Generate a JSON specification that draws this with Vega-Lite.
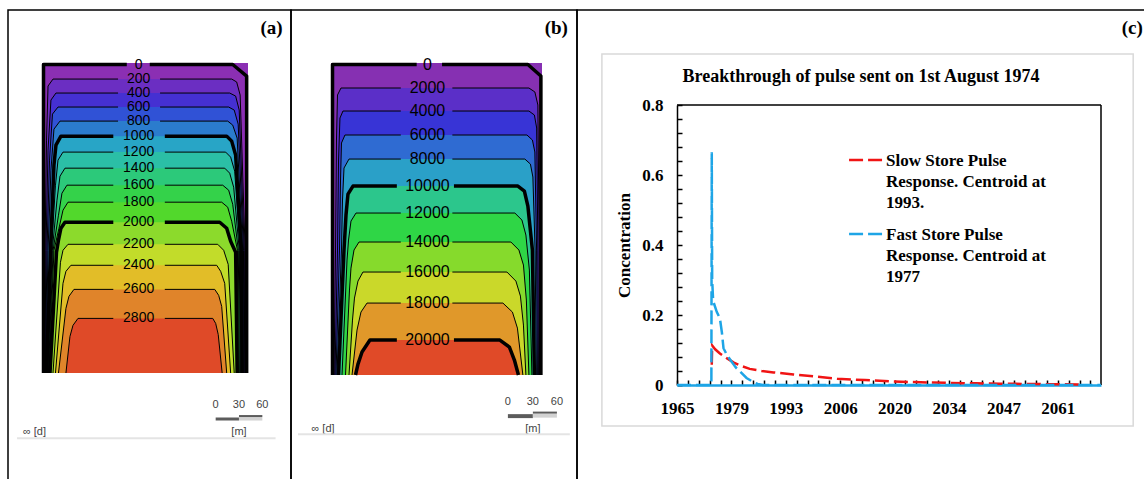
{
"$schema":"https://vega.github.io/schema/vega-lite/v6.json",
"background":"white",
"padding":{"left":7,"top":9,"right":0,"bottom":0},
"spacing":0,
"bounds":"flush",
"resolve":{"scale":{"color":"independent","fill":"independent"}},
"config":{"view":{"stroke":"#000000","strokeWidth":1.5}},
"datasets":{
"ca":[
{"level":0,"seg":"L","i":0,"x":1.9,"d":390},{"level":0,"seg":"L","i":4,"x":1.9,"d":1.9},{"level":0,"seg":"L","i":5,"x":107,"d":1.9},{"level":0,"seg":"R","i":6,"x":136,"d":1.9},{"level":0,"seg":"R","i":7,"x":240.7,"d":1.9},{"level":0,"seg":"R","i":9,"x":258.3,"d":16.4},{"level":0,"seg":"R","i":11,"x":258.3,"d":390},
{"level":200,"seg":"L","i":0,"x":2.9,"d":390},{"level":200,"seg":"L","i":1,"x":3.8,"d":235.6},{"level":200,"seg":"L","i":2,"x":5.7,"d":97.0},{"level":200,"seg":"L","i":3,"x":7.6,"d":29.0},{"level":200,"seg":"L","i":4,"x":13.9,"d":20.2},{"level":200,"seg":"L","i":5,"x":96,"d":20.2},{"level":200,"seg":"R","i":6,"x":149,"d":20.2},{"level":200,"seg":"R","i":7,"x":239.4,"d":20.2},{"level":200,"seg":"R","i":8,"x":245.7,"d":23.9},{"level":200,"seg":"R","i":9,"x":250.1,"d":40.3},{"level":200,"seg":"R","i":10,"x":256.4,"d":235.6},{"level":200,"seg":"R","i":11,"x":256.8,"d":390},
{"level":400,"seg":"L","i":0,"x":3.5,"d":390},{"level":400,"seg":"L","i":1,"x":5.0,"d":235.6},{"level":400,"seg":"L","i":2,"x":7.6,"d":109.6},{"level":400,"seg":"L","i":3,"x":11.3,"d":46.6},{"level":400,"seg":"L","i":4,"x":17.6,"d":37.8},{"level":400,"seg":"L","i":5,"x":96,"d":37.8},{"level":400,"seg":"R","i":6,"x":149,"d":37.8},{"level":400,"seg":"R","i":7,"x":236.9,"d":37.8},{"level":400,"seg":"R","i":8,"x":244.4,"d":41.6},{"level":400,"seg":"R","i":9,"x":248.9,"d":59.2},{"level":400,"seg":"R","i":10,"x":255.3,"d":235.6},{"level":400,"seg":"R","i":11,"x":255.8,"d":390},
{"level":600,"seg":"L","i":0,"x":4.2,"d":390},{"level":600,"seg":"L","i":1,"x":6.3,"d":235.6},{"level":600,"seg":"L","i":2,"x":9.5,"d":122.2},{"level":600,"seg":"L","i":3,"x":13.2,"d":64.3},{"level":600,"seg":"L","i":4,"x":20.2,"d":55.4},{"level":600,"seg":"L","i":5,"x":96,"d":55.4},{"level":600,"seg":"R","i":6,"x":149,"d":55.4},{"level":600,"seg":"R","i":7,"x":235.6,"d":55.4},{"level":600,"seg":"R","i":8,"x":242.6,"d":59.2},{"level":600,"seg":"R","i":9,"x":247.6,"d":76.9},{"level":600,"seg":"R","i":10,"x":254.3,"d":235.6},{"level":600,"seg":"R","i":11,"x":254.9,"d":390},
{"level":800,"seg":"L","i":0,"x":4.8,"d":390},{"level":800,"seg":"L","i":1,"x":7.6,"d":235.6},{"level":800,"seg":"L","i":2,"x":11.3,"d":134.8},{"level":800,"seg":"L","i":3,"x":15.1,"d":83.2},{"level":800,"seg":"L","i":4,"x":22.7,"d":73.1},{"level":800,"seg":"L","i":5,"x":96,"d":73.1},{"level":800,"seg":"R","i":6,"x":149,"d":73.1},{"level":800,"seg":"R","i":7,"x":234.4,"d":73.1},{"level":800,"seg":"R","i":8,"x":240.7,"d":78.1},{"level":800,"seg":"R","i":9,"x":246.3,"d":94.5},{"level":800,"seg":"R","i":10,"x":253.3,"d":235.6},{"level":800,"seg":"R","i":11,"x":253.9,"d":390},
{"level":1000,"seg":"L","i":0,"x":5.7,"d":390},{"level":1000,"seg":"L","i":1,"x":10.7,"d":235.6},{"level":1000,"seg":"L","i":2,"x":15.1,"d":128.5},{"level":1000,"seg":"L","i":3,"x":17.6,"d":103.3},{"level":1000,"seg":"L","i":4,"x":23.9,"d":92.0},{"level":1000,"seg":"L","i":5,"x":90,"d":92.0},{"level":1000,"seg":"R","i":6,"x":155,"d":92.0},{"level":1000,"seg":"R","i":7,"x":233.1,"d":92.0},{"level":1000,"seg":"R","i":8,"x":239.4,"d":98.3},{"level":1000,"seg":"R","i":9,"x":244.4,"d":115.9},{"level":1000,"seg":"R","i":10,"x":251.4,"d":235.6},{"level":1000,"seg":"R","i":11,"x":252.6,"d":390},
{"level":1200,"seg":"L","i":0,"x":6.6,"d":390},{"level":1200,"seg":"L","i":1,"x":12.0,"d":235.6},{"level":1200,"seg":"L","i":2,"x":17.0,"d":153.7},{"level":1200,"seg":"L","i":3,"x":20.2,"d":122.2},{"level":1200,"seg":"L","i":4,"x":26.5,"d":112.1},{"level":1200,"seg":"L","i":5,"x":90,"d":112.1},{"level":1200,"seg":"R","i":6,"x":155,"d":112.1},{"level":1200,"seg":"R","i":7,"x":231.8,"d":112.1},{"level":1200,"seg":"R","i":8,"x":238.1,"d":118.4},{"level":1200,"seg":"R","i":9,"x":243.2,"d":136.1},{"level":1200,"seg":"R","i":10,"x":250.1,"d":235.6},{"level":1200,"seg":"R","i":11,"x":251.5,"d":390},
{"level":1400,"seg":"L","i":0,"x":7.3,"d":390},{"level":1400,"seg":"L","i":1,"x":13.0,"d":235.6},{"level":1400,"seg":"L","i":2,"x":18.9,"d":172.6},{"level":1400,"seg":"L","i":3,"x":22.7,"d":142.4},{"level":1400,"seg":"L","i":4,"x":29.0,"d":132.3},{"level":1400,"seg":"L","i":5,"x":90,"d":132.3},{"level":1400,"seg":"R","i":6,"x":155,"d":132.3},{"level":1400,"seg":"R","i":7,"x":230.6,"d":132.3},{"level":1400,"seg":"R","i":8,"x":236.9,"d":138.6},{"level":1400,"seg":"R","i":9,"x":241.9,"d":156.2},{"level":1400,"seg":"R","i":10,"x":249.0,"d":235.6},{"level":1400,"seg":"R","i":11,"x":250.4,"d":390},
{"level":1600,"seg":"L","i":0,"x":8.1,"d":390},{"level":1600,"seg":"L","i":1,"x":14.0,"d":235.6},{"level":1600,"seg":"L","i":2,"x":20.8,"d":191.5},{"level":1600,"seg":"L","i":3,"x":25.2,"d":163.8},{"level":1600,"seg":"L","i":4,"x":31.5,"d":153.7},{"level":1600,"seg":"L","i":5,"x":90,"d":153.7},{"level":1600,"seg":"R","i":6,"x":155,"d":153.7},{"level":1600,"seg":"R","i":7,"x":228.1,"d":153.7},{"level":1600,"seg":"R","i":8,"x":235.6,"d":160.0},{"level":1600,"seg":"R","i":9,"x":240.7,"d":177.7},{"level":1600,"seg":"R","i":10,"x":247.8,"d":235.6},{"level":1600,"seg":"R","i":11,"x":249.1,"d":390},
{"level":1800,"seg":"L","i":0,"x":8.8,"d":390},{"level":1800,"seg":"L","i":1,"x":15.1,"d":235.6},{"level":1800,"seg":"L","i":2,"x":21.4,"d":207.9},{"level":1800,"seg":"L","i":3,"x":26.5,"d":185.2},{"level":1800,"seg":"L","i":4,"x":32.8,"d":175.1},{"level":1800,"seg":"L","i":5,"x":90,"d":175.1},{"level":1800,"seg":"R","i":6,"x":155,"d":175.1},{"level":1800,"seg":"R","i":7,"x":226.8,"d":175.1},{"level":1800,"seg":"R","i":8,"x":234.4,"d":181.4},{"level":1800,"seg":"R","i":9,"x":239.4,"d":199.1},{"level":1800,"seg":"R","i":10,"x":246.7,"d":235.6},{"level":1800,"seg":"R","i":11,"x":247.8,"d":390},
{"level":2000,"seg":"L","i":0,"x":10.1,"d":390},{"level":2000,"seg":"L","i":1,"x":18.3,"d":238.1},{"level":2000,"seg":"L","i":2,"x":20.8,"d":223.0},{"level":2000,"seg":"L","i":3,"x":23.9,"d":207.9},{"level":2000,"seg":"L","i":4,"x":29.0,"d":200.3},{"level":2000,"seg":"L","i":5,"x":90,"d":200.3},{"level":2000,"seg":"R","i":6,"x":155,"d":200.3},{"level":2000,"seg":"R","i":7,"x":224.3,"d":200.3},{"level":2000,"seg":"R","i":8,"x":233.1,"d":207.9},{"level":2000,"seg":"R","i":9,"x":238.1,"d":224.3},{"level":2000,"seg":"R","i":10,"x":244.4,"d":238.1},{"level":2000,"seg":"R","i":11,"x":246.3,"d":390},
{"level":2200,"seg":"L","i":0,"x":13.9,"d":390},{"level":2200,"seg":"L","i":2,"x":23.3,"d":250.7},{"level":2200,"seg":"L","i":3,"x":26.5,"d":235.6},{"level":2200,"seg":"L","i":4,"x":32.8,"d":228.1},{"level":2200,"seg":"L","i":5,"x":90,"d":228.1},{"level":2200,"seg":"R","i":6,"x":155,"d":228.1},{"level":2200,"seg":"R","i":7,"x":221.8,"d":228.1},{"level":2200,"seg":"R","i":8,"x":229.3,"d":235.6},{"level":2200,"seg":"R","i":9,"x":235.0,"d":253.3},{"level":2200,"seg":"R","i":11,"x":242.6,"d":390},
{"level":2400,"seg":"L","i":0,"x":17.0,"d":390},{"level":2400,"seg":"L","i":2,"x":26.5,"d":277.2},{"level":2400,"seg":"L","i":3,"x":30.2,"d":262.1},{"level":2400,"seg":"L","i":4,"x":36.5,"d":254.5},{"level":2400,"seg":"L","i":5,"x":90,"d":254.5},{"level":2400,"seg":"R","i":6,"x":155,"d":254.5},{"level":2400,"seg":"R","i":7,"x":220.5,"d":254.5},{"level":2400,"seg":"R","i":8,"x":225.5,"d":262.1},{"level":2400,"seg":"R","i":9,"x":230.6,"d":277.2},{"level":2400,"seg":"R","i":11,"x":238.1,"d":390},
{"level":2600,"seg":"L","i":0,"x":20.8,"d":390},{"level":2600,"seg":"L","i":2,"x":30.2,"d":308.7},{"level":2600,"seg":"L","i":3,"x":34.0,"d":293.6},{"level":2600,"seg":"L","i":4,"x":40.3,"d":284.8},{"level":2600,"seg":"L","i":5,"x":90,"d":284.8},{"level":2600,"seg":"R","i":6,"x":155,"d":284.8},{"level":2600,"seg":"R","i":7,"x":218.0,"d":284.8},{"level":2600,"seg":"R","i":8,"x":223.0,"d":292.3},{"level":2600,"seg":"R","i":9,"x":226.8,"d":306.2},{"level":2600,"seg":"R","i":11,"x":233.1,"d":390},
{"level":2800,"seg":"L","i":0,"x":30.2,"d":390},{"level":2800,"seg":"L","i":2,"x":35.3,"d":344.0},{"level":2800,"seg":"L","i":3,"x":39.1,"d":330.1},{"level":2800,"seg":"L","i":4,"x":45.4,"d":321.3},{"level":2800,"seg":"L","i":5,"x":90,"d":321.3},{"level":2800,"seg":"R","i":6,"x":155,"d":321.3},{"level":2800,"seg":"R","i":7,"x":215.5,"d":321.3},{"level":2800,"seg":"R","i":8,"x":219.2,"d":327.6},{"level":2800,"seg":"R","i":9,"x":222.4,"d":341.5},{"level":2800,"seg":"R","i":11,"x":227.4,"d":390}
],
"cb":[
{"level":0,"seg":"L","i":0,"x":1.9,"d":393},{"level":0,"seg":"L","i":4,"x":1.9,"d":1.9},{"level":0,"seg":"L","i":5,"x":108,"d":1.9},{"level":0,"seg":"R","i":6,"x":140,"d":1.9},{"level":0,"seg":"R","i":7,"x":248.2,"d":1.9},{"level":0,"seg":"R","i":9,"x":264.6,"d":16.4},{"level":0,"seg":"R","i":11,"x":264.6,"d":393},
{"level":2000,"seg":"L","i":0,"x":3.8,"d":393},{"level":2000,"seg":"L","i":1,"x":5.7,"d":235.6},{"level":2000,"seg":"L","i":2,"x":6.9,"d":97.0},{"level":2000,"seg":"L","i":3,"x":8.2,"d":40.3},{"level":2000,"seg":"L","i":4,"x":12.6,"d":31.5},{"level":2000,"seg":"L","i":5,"x":88,"d":31.5},{"level":2000,"seg":"R","i":6,"x":153,"d":31.5},{"level":2000,"seg":"R","i":7,"x":249.5,"d":31.5},{"level":2000,"seg":"R","i":8,"x":257.0,"d":36.5},{"level":2000,"seg":"R","i":9,"x":260.8,"d":52.9},{"level":2000,"seg":"R","i":10,"x":262.5,"d":235.6},{"level":2000,"seg":"R","i":11,"x":262.7,"d":393},
{"level":4000,"seg":"L","i":0,"x":5.0,"d":393},{"level":4000,"seg":"L","i":1,"x":8.2,"d":235.6},{"level":4000,"seg":"L","i":2,"x":9.5,"d":122.2},{"level":4000,"seg":"L","i":3,"x":11.3,"d":69.3},{"level":4000,"seg":"L","i":4,"x":15.1,"d":60.5},{"level":4000,"seg":"L","i":5,"x":88,"d":60.5},{"level":4000,"seg":"R","i":6,"x":153,"d":60.5},{"level":4000,"seg":"R","i":7,"x":249.5,"d":60.5},{"level":4000,"seg":"R","i":8,"x":256.4,"d":65.5},{"level":4000,"seg":"R","i":9,"x":259.3,"d":81.9},{"level":4000,"seg":"R","i":10,"x":260.8,"d":235.6},{"level":4000,"seg":"R","i":11,"x":261.5,"d":393},
{"level":6000,"seg":"L","i":0,"x":6.3,"d":393},{"level":6000,"seg":"L","i":1,"x":10.7,"d":235.6},{"level":6000,"seg":"L","i":2,"x":12.0,"d":147.4},{"level":6000,"seg":"L","i":3,"x":13.2,"d":100.8},{"level":6000,"seg":"L","i":4,"x":17.6,"d":90.7},{"level":6000,"seg":"L","i":5,"x":88,"d":90.7},{"level":6000,"seg":"R","i":6,"x":153,"d":90.7},{"level":6000,"seg":"R","i":7,"x":247.0,"d":90.7},{"level":6000,"seg":"R","i":8,"x":253.9,"d":97.0},{"level":6000,"seg":"R","i":9,"x":257.0,"d":112.1},{"level":6000,"seg":"R","i":10,"x":259.2,"d":235.6},{"level":6000,"seg":"R","i":11,"x":260.2,"d":393},
{"level":8000,"seg":"L","i":0,"x":7.6,"d":393},{"level":8000,"seg":"L","i":1,"x":13.2,"d":235.6},{"level":8000,"seg":"L","i":2,"x":14.5,"d":172.6},{"level":8000,"seg":"L","i":3,"x":16.4,"d":132.3},{"level":8000,"seg":"L","i":4,"x":22.7,"d":121.0},{"level":8000,"seg":"L","i":5,"x":88,"d":121.0},{"level":8000,"seg":"R","i":6,"x":153,"d":121.0},{"level":8000,"seg":"R","i":7,"x":244.4,"d":121.0},{"level":8000,"seg":"R","i":8,"x":251.4,"d":127.3},{"level":8000,"seg":"R","i":9,"x":254.5,"d":143.6},{"level":8000,"seg":"R","i":10,"x":257.3,"d":235.6},{"level":8000,"seg":"R","i":11,"x":258.9,"d":393},
{"level":10000,"seg":"L","i":0,"x":9.5,"d":393},{"level":10000,"seg":"L","i":1,"x":16.4,"d":235.6},{"level":10000,"seg":"L","i":2,"x":18.9,"d":191.5},{"level":10000,"seg":"L","i":3,"x":21.4,"d":165.1},{"level":10000,"seg":"L","i":4,"x":27.7,"d":155.0},{"level":10000,"seg":"L","i":5,"x":83,"d":155.0},{"level":10000,"seg":"R","i":6,"x":155,"d":155.0},{"level":10000,"seg":"R","i":7,"x":235.6,"d":155.0},{"level":10000,"seg":"R","i":8,"x":243.8,"d":161.3},{"level":10000,"seg":"R","i":9,"x":248.2,"d":180.2},{"level":10000,"seg":"R","i":10,"x":253.9,"d":235.6},{"level":10000,"seg":"R","i":11,"x":256.4,"d":393},
{"level":12000,"seg":"L","i":0,"x":13.9,"d":393},{"level":12000,"seg":"L","i":1,"x":20.2,"d":248.2},{"level":12000,"seg":"L","i":2,"x":22.1,"d":223.0},{"level":12000,"seg":"L","i":3,"x":25.2,"d":199.1},{"level":12000,"seg":"L","i":4,"x":31.5,"d":189.0},{"level":12000,"seg":"L","i":5,"x":88,"d":189.0},{"level":12000,"seg":"R","i":6,"x":153,"d":189.0},{"level":12000,"seg":"R","i":7,"x":231.8,"d":189.0},{"level":12000,"seg":"R","i":8,"x":240.7,"d":197.8},{"level":12000,"seg":"R","i":9,"x":245.7,"d":216.7},{"level":12000,"seg":"R","i":10,"x":250.1,"d":260.8},{"level":12000,"seg":"R","i":11,"x":253.3,"d":393},
{"level":14000,"seg":"L","i":0,"x":18.3,"d":393},{"level":14000,"seg":"L","i":1,"x":23.3,"d":286.0},{"level":14000,"seg":"L","i":2,"x":25.2,"d":258.3},{"level":14000,"seg":"L","i":3,"x":29.0,"d":235.6},{"level":14000,"seg":"L","i":4,"x":35.3,"d":225.5},{"level":14000,"seg":"L","i":5,"x":88,"d":225.5},{"level":14000,"seg":"R","i":6,"x":153,"d":225.5},{"level":14000,"seg":"R","i":7,"x":226.8,"d":225.5},{"level":14000,"seg":"R","i":8,"x":236.9,"d":235.6},{"level":14000,"seg":"R","i":9,"x":242.6,"d":254.5},{"level":14000,"seg":"R","i":10,"x":246.3,"d":298.6},{"level":14000,"seg":"R","i":11,"x":249.5,"d":393},
{"level":16000,"seg":"L","i":0,"x":22.7,"d":393},{"level":16000,"seg":"L","i":1,"x":27.1,"d":323.8},{"level":16000,"seg":"L","i":2,"x":29.6,"d":296.1},{"level":16000,"seg":"L","i":3,"x":34.0,"d":274.7},{"level":16000,"seg":"L","i":4,"x":40.3,"d":263.3},{"level":16000,"seg":"L","i":5,"x":88,"d":263.3},{"level":16000,"seg":"R","i":6,"x":153,"d":263.3},{"level":16000,"seg":"R","i":7,"x":221.8,"d":263.3},{"level":16000,"seg":"R","i":8,"x":233.1,"d":274.7},{"level":16000,"seg":"R","i":9,"x":238.8,"d":293.6},{"level":16000,"seg":"R","i":10,"x":242.6,"d":330.1},{"level":16000,"seg":"R","i":11,"x":245.7,"d":393},
{"level":18000,"seg":"L","i":0,"x":26.5,"d":393},{"level":18000,"seg":"L","i":2,"x":32.8,"d":336.4},{"level":18000,"seg":"L","i":3,"x":37.8,"d":313.7},{"level":18000,"seg":"L","i":4,"x":45.4,"d":302.4},{"level":18000,"seg":"L","i":5,"x":88,"d":302.4},{"level":18000,"seg":"R","i":6,"x":153,"d":302.4},{"level":18000,"seg":"R","i":7,"x":216.7,"d":302.4},{"level":18000,"seg":"R","i":8,"x":228.7,"d":313.7},{"level":18000,"seg":"R","i":9,"x":235.0,"d":333.9},{"level":18000,"seg":"R","i":11,"x":241.9,"d":393},
{"level":20000,"seg":"L","i":0,"x":30.9,"d":393},{"level":20000,"seg":"L","i":2,"x":34.0,"d":379.3},{"level":20000,"seg":"L","i":3,"x":39.1,"d":364.1},{"level":20000,"seg":"L","i":4,"x":49.1,"d":349.0},{"level":20000,"seg":"L","i":5,"x":83,"d":349.0},{"level":20000,"seg":"R","i":6,"x":155,"d":349.0},{"level":20000,"seg":"R","i":7,"x":212.9,"d":349.0},{"level":20000,"seg":"R","i":8,"x":224.9,"d":357.8},{"level":20000,"seg":"R","i":9,"x":231.2,"d":374.2},{"level":20000,"seg":"R","i":11,"x":236.3,"d":393}
],
"sba":[{"x":219.2,"x2":248.6,"d":446.0,"d2":449.8,"p":"dark"},{"x":248.6,"x2":278.1,"d":445.4,"d2":449.8,"p":"light"},{"x":248.6,"x2":278.1,"d":442.9,"d2":445.4,"p":"dark"}],
"sbb":[{"x":223.0,"x2":254.5,"d":442.3,"d2":447.3,"p":"dark"},{"x":254.5,"x2":284.8,"d":441.6,"d2":446.7,"p":"light"},{"x":254.5,"x2":284.8,"d":439.1,"d2":441.6,"p":"dark"}],
"sta":[{"t":"0","x":219.2,"d":429.7},{"t":"30","x":248.6,"d":429.7},{"t":"60","x":278.1,"d":429.7},{"t":"[m]","x":248.6,"d":464.5},{"t":"∞ [d]","x":-9.5,"d":464.5}],
"stb":[{"t":"0","x":223.0,"d":427.1},{"t":"30","x":254.5,"d":427.1},{"t":"60","x":284.8,"d":427.1},{"t":"[m]","x":254.5,"d":461.2},{"t":"∞ [d]","x":-10.1,"d":461.2}],
"conc":[
{"series":"Slow","year":1974.45,"c":0.058},{"series":"Slow","year":1974.55,"c":0.113},{"series":"Slow","year":1975.3,"c":0.102},{"series":"Slow","year":1976.5,"c":0.09},{"series":"Slow","year":1978.3,"c":0.076},{"series":"Slow","year":1980,"c":0.064},{"series":"Slow","year":1982,"c":0.054},{"series":"Slow","year":1984,"c":0.046},{"series":"Slow","year":1987,"c":0.04},{"series":"Slow","year":1990,"c":0.036},{"series":"Slow","year":1995,"c":0.03},{"series":"Slow","year":2000,"c":0.025},{"series":"Slow","year":2006,"c":0.018},{"series":"Slow","year":2013,"c":0.014},{"series":"Slow","year":2020,"c":0.010},{"series":"Slow","year":2027,"c":0.0078},{"series":"Slow","year":2034,"c":0.006},{"series":"Slow","year":2041,"c":0.0047},{"series":"Slow","year":2047,"c":0.0038},{"series":"Slow","year":2054,"c":0.003},{"series":"Slow","year":2061,"c":0.0022},{"series":"Slow","year":2068,"c":0.0015},
{"series":"Fast","year":1965.7,"c":0},{"series":"Fast","year":1974.35,"c":0},{"series":"Fast","year":1974.45,"c":0.665},{"series":"Fast","year":1974.55,"c":0.30},{"series":"Fast","year":1974.8,"c":0.24},{"series":"Fast","year":1975.7,"c":0.209},{"series":"Fast","year":1976.5,"c":0.19},{"series":"Fast","year":1977.0,"c":0.15},{"series":"Fast","year":1977.4,"c":0.105},{"series":"Fast","year":1978.3,"c":0.085},{"series":"Fast","year":1979.5,"c":0.066},{"series":"Fast","year":1980.5,"c":0.05},{"series":"Fast","year":1981.6,"c":0.038},{"series":"Fast","year":1983.2,"c":0.02},{"series":"Fast","year":1984.8,"c":0.009},{"series":"Fast","year":1986.0,"c":0.003},{"series":"Fast","year":1987.3,"c":0},{"series":"Fast","year":2072.4,"c":0}
],
"leg":[{"series":"Slow","year":2009.0,"c":0.6429},{"series":"Slow","year":2017.3,"c":0.6429},{"series":"Fast","year":2009.0,"c":0.4314},{"series":"Fast","year":2017.3,"c":0.4314}],
"legtext":[{"series":"Slow","t":"Slow Store Pulse\nResponse. Centroid at\n1993.","c":0.626},{"series":"Fast","t":"Fast Store Pulse\nResponse. Centroid at\n1977","c":0.414}]
},
"hconcat":[
{
"width":283,"height":470,
"layer":[
{"data":{"values":[{}]},"mark":{"type":"rect","color":"#8b2fb3"},"encoding":{"x":{"datum":0,"axis":null},"x2":{"datum":260},"y":{"datum":0,"axis":null},"y2":{"datum":390}}},
{"data":{"name":"ca"},"transform":[{"filter":"datum.level > 0"}],"mark":{"type":"area","interpolate":"linear"},"encoding":{"x":{"field":"x","type":"quantitative","scale":{"domain":[0,260],"range":[34,240],"nice":false,"zero":false},"axis":null},"y":{"field":"d","type":"quantitative","scale":{"domain":[0,390],"range":[53,363],"nice":false,"zero":false},"axis":null,"stack":null},"y2":{"datum":390},"color":{"field":"level","type":"ordinal","scale":{"domain":[200,400,600,800,1000,1200,1400,1600,1800,2000,2200,2400,2600,2800],"range":["#6b2ec2","#4530d2","#3052d6","#2b7ccd","#28a5c6","#2bbfa6","#2cc97a","#34d24a","#52d82c","#8cda2c","#c2dc2a","#e2bd28","#e0842a","#df4a28"]},"legend":null},"detail":{"field":"level"}}},
{"data":{"name":"ca"},"mark":{"type":"line","color":"black","strokeJoin":"round","strokeCap":"butt"},"encoding":{"x":{"field":"x","type":"quantitative","axis":null},"y":{"field":"d","type":"quantitative","axis":null},"detail":[{"field":"level"},{"field":"seg"}],"order":{"field":"i","type":"quantitative"},"strokeWidth":{"condition":{"test":"datum.level % 1000 == 0","value":3.5},"value":1}}},
{"data":{"name":"ca"},"transform":[{"filter":"datum.i == 5"}],"mark":{"type":"text","font":"Liberation Sans","fontSize":14,"baseline":"middle","align":"center","color":"black"},"encoding":{"x":{"datum":122,"axis":null},"y":{"field":"d","type":"quantitative","axis":null},"text":{"field":"level","type":"quantitative","format":"d"},"fontWeight":{"condition":{"test":"datum.level % 1000 == 0","value":"bold"},"value":"normal"}}},
{"data":{"name":"sba"},"mark":{"type":"rect"},"encoding":{"x":{"field":"x","type":"quantitative","axis":null},"x2":{"field":"x2"},"y":{"field":"d","type":"quantitative","axis":null},"y2":{"field":"d2"},"fill":{"field":"p","type":"nominal","scale":{"domain":["dark","light"],"range":["#5c5c5c","#d2d2d2"]},"legend":null}}},
{"data":{"name":"sta"},"mark":{"type":"text","font":"Liberation Sans","fontSize":11,"color":"#444444","baseline":"middle","align":"center"},"encoding":{"x":{"field":"x","type":"quantitative","axis":null},"y":{"field":"d","type":"quantitative","axis":null},"text":{"field":"t"}}},
{"data":{"values":[{}]},"mark":{"type":"rule","color":"#e4e4e4","strokeWidth":2},"encoding":{"x":{"datum":-31.5,"axis":null},"x2":{"datum":294.8},"y":{"datum":472.1,"axis":null}}},
{"data":{"values":[{}]},"mark":{"type":"text","text":"(a)","font":"Liberation Serif","fontSize":19,"fontWeight":"bold","align":"right","baseline":"middle","color":"black"},"encoding":{"x":{"datum":303.7,"axis":null},"y":{"datum":-44.1,"axis":null}}}
]
},
{
"width":286,"height":470,
"layer":[
{"data":{"values":[{}]},"mark":{"type":"rect","color":"#8630b2"},"encoding":{"x":{"datum":0,"axis":null},"x2":{"datum":266},"y":{"datum":0,"axis":null},"y2":{"datum":393}}},
{"data":{"name":"cb"},"transform":[{"filter":"datum.level > 0"}],"mark":{"type":"area","interpolate":"linear"},"encoding":{"x":{"field":"x","type":"quantitative","scale":{"domain":[0,266],"range":[40,251],"nice":false,"zero":false},"axis":null},"y":{"field":"d","type":"quantitative","scale":{"domain":[0,393],"range":[53,365],"nice":false,"zero":false},"axis":null,"stack":null},"y2":{"datum":393},"color":{"field":"level","type":"ordinal","scale":{"domain":[2000,4000,6000,8000,10000,12000,14000,16000,18000,20000],"range":["#5b2fc8","#3834d6","#2f6bd2","#2aa0c8","#2cc68c","#2fd646","#86da2c","#cad82a","#e0982a","#e04a28"]},"legend":null},"detail":{"field":"level"}}},
{"data":{"name":"cb"},"mark":{"type":"line","color":"black","strokeJoin":"round","strokeCap":"butt"},"encoding":{"x":{"field":"x","type":"quantitative","axis":null},"y":{"field":"d","type":"quantitative","axis":null},"detail":[{"field":"level"},{"field":"seg"}],"order":{"field":"i","type":"quantitative"},"strokeWidth":{"condition":{"test":"datum.level % 10000 == 0","value":3.5},"value":1}}},
{"data":{"name":"cb"},"transform":[{"filter":"datum.i == 5"}],"mark":{"type":"text","font":"Liberation Sans","fontSize":16,"baseline":"middle","align":"center","color":"black"},"encoding":{"x":{"datum":121.6,"axis":null},"y":{"field":"d","type":"quantitative","axis":null},"text":{"field":"level","type":"quantitative","format":"d"},"fontWeight":{"condition":{"test":"datum.level % 10000 == 0","value":"bold"},"value":"normal"}}},
{"data":{"name":"sbb"},"mark":{"type":"rect"},"encoding":{"x":{"field":"x","type":"quantitative","axis":null},"x2":{"field":"x2"},"y":{"field":"d","type":"quantitative","axis":null},"y2":{"field":"d2"},"fill":{"field":"p","type":"nominal","scale":{"domain":["dark","light"],"range":["#5c5c5c","#d2d2d2"]},"legend":null}}},
{"data":{"name":"stb"},"mark":{"type":"text","font":"Liberation Sans","fontSize":11,"color":"#444444","baseline":"middle","align":"center"},"encoding":{"x":{"field":"x","type":"quantitative","axis":null},"y":{"field":"d","type":"quantitative","axis":null},"text":{"field":"t"}}},
{"data":{"values":[{}]},"mark":{"type":"rule","color":"#e4e4e4","strokeWidth":2},"encoding":{"x":{"datum":-41.6,"axis":null},"x2":{"datum":301.1},"y":{"datum":467.5,"axis":null}}},
{"data":{"values":[{}]},"mark":{"type":"text","text":"(b)","font":"Liberation Serif","fontSize":19,"fontWeight":"bold","align":"right","baseline":"middle","color":"black"},"encoding":{"x":{"datum":298.6,"axis":null},"y":{"datum":-44.1,"axis":null}}}
]
},
{
"width":569,"height":470,
"layer":[
{"data":{"values":[{}]},"mark":{"type":"rect","fill":"transparent","stroke":"#d9d9d9","strokeWidth":1.5},"encoding":{
"x":{"datum":1946.8,"axis":{"title":null,"orient":"bottom","offset":-95,"values":[1965.7,1968.438,1971.176,1973.914,1976.652,1979.39,1982.128,1984.866,1987.604,1990.342,1993.08,1995.818,1998.556,2001.294,2004.032,2006.77,2009.508,2012.246,2014.984,2017.722,2020.46,2023.198,2025.936,2028.674,2031.412,2034.15,2036.888,2039.626,2042.364,2045.102,2047.84,2050.578,2053.316,2056.054,2058.792,2061.53,2064.268,2067.006,2069.744],"labelExpr":"round((datum.value-1965.7)/2.738) % 5 == 0 ? '' + floor(datum.value) : ''","labelFont":"Liberation Serif","labelFontSize":17,"labelFontWeight":"bold","labelColor":"black","labelPadding":20,"labelOverlap":false,"labelFlush":false,"tickSize":-5,"tickColor":"black","tickWidth":1.5,"domainColor":"#1ea5e6","domainWidth":2.5,"grid":false}},
"x2":{"datum":2080.5},
"y":{"datum":0.9457,"axis":{"title":"Concentration","orient":"left","offset":-100,"values":[0,0.04,0.08,0.12,0.16,0.2,0.24,0.28,0.32,0.36,0.4,0.44,0.48,0.52,0.56,0.6,0.64,0.68,0.72,0.76,0.8],"labelExpr":"round(datum.value*25) % 5 == 0 ? (datum.value == 0 ? '0' : format(datum.value, '.1f')) : ''","labelFont":"Liberation Serif","labelFontSize":17,"labelFontWeight":"bold","labelColor":"black","labelPadding":19,"labelOverlap":false,"labelFlush":false,"tickSize":-5,"tickColor":"black","tickWidth":1.5,"domainColor":"black","domainWidth":1.5,"grid":false,"titleFont":"Liberation Serif","titleFontSize":17,"titleFontWeight":"bold","titleColor":"black","titlePadding":8}},
"y2":{"datum":-0.1171}}},
{"data":{"values":[{}]},"mark":{"type":"rule","color":"black","strokeWidth":1.5},"encoding":{
"x":{"datum":1965.7,"axis":{"title":null,"orient":"bottom","offset":-95,"values":[1965.7,1968.438,1971.176,1973.914,1976.652,1979.39,1982.128,1984.866,1987.604,1990.342,1993.08,1995.818,1998.556,2001.294,2004.032,2006.77,2009.508,2012.246,2014.984,2017.722,2020.46,2023.198,2025.936,2028.674,2031.412,2034.15,2036.888,2039.626,2042.364,2045.102,2047.84,2050.578,2053.316,2056.054,2058.792,2061.53,2064.268,2067.006,2069.744],"labelExpr":"round((datum.value-1965.7)/2.738) % 5 == 0 ? '' + floor(datum.value) : ''","labelFont":"Liberation Serif","labelFontSize":17,"labelFontWeight":"bold","labelColor":"black","labelPadding":20,"labelOverlap":false,"labelFlush":false,"tickSize":-5,"tickColor":"black","tickWidth":1.5,"domainColor":"#1ea5e6","domainWidth":2.5,"grid":false}},
"x2":{"datum":2072.4},
"y":{"datum":0.8,"axis":{"title":"Concentration","orient":"left","offset":-100,"values":[0,0.04,0.08,0.12,0.16,0.2,0.24,0.28,0.32,0.36,0.4,0.44,0.48,0.52,0.56,0.6,0.64,0.68,0.72,0.76,0.8],"labelExpr":"round(datum.value*25) % 5 == 0 ? (datum.value == 0 ? '0' : format(datum.value, '.1f')) : ''","labelFont":"Liberation Serif","labelFontSize":17,"labelFontWeight":"bold","labelColor":"black","labelPadding":19,"labelOverlap":false,"labelFlush":false,"tickSize":-5,"tickColor":"black","tickWidth":1.5,"domainColor":"black","domainWidth":1.5,"grid":false,"titleFont":"Liberation Serif","titleFontSize":17,"titleFontWeight":"bold","titleColor":"black","titlePadding":8}}}},
{"data":{"values":[{}]},"mark":{"type":"rule","color":"black","strokeWidth":1.5},"encoding":{
"x":{"datum":2072.4,"axis":{"title":null,"orient":"bottom","offset":-95,"values":[1965.7,1968.438,1971.176,1973.914,1976.652,1979.39,1982.128,1984.866,1987.604,1990.342,1993.08,1995.818,1998.556,2001.294,2004.032,2006.77,2009.508,2012.246,2014.984,2017.722,2020.46,2023.198,2025.936,2028.674,2031.412,2034.15,2036.888,2039.626,2042.364,2045.102,2047.84,2050.578,2053.316,2056.054,2058.792,2061.53,2064.268,2067.006,2069.744],"labelExpr":"round((datum.value-1965.7)/2.738) % 5 == 0 ? '' + floor(datum.value) : ''","labelFont":"Liberation Serif","labelFontSize":17,"labelFontWeight":"bold","labelColor":"black","labelPadding":20,"labelOverlap":false,"labelFlush":false,"tickSize":-5,"tickColor":"black","tickWidth":1.5,"domainColor":"#1ea5e6","domainWidth":2.5,"grid":false}},
"y":{"datum":0,"axis":{"title":"Concentration","orient":"left","offset":-100,"values":[0,0.04,0.08,0.12,0.16,0.2,0.24,0.28,0.32,0.36,0.4,0.44,0.48,0.52,0.56,0.6,0.64,0.68,0.72,0.76,0.8],"labelExpr":"round(datum.value*25) % 5 == 0 ? (datum.value == 0 ? '0' : format(datum.value, '.1f')) : ''","labelFont":"Liberation Serif","labelFontSize":17,"labelFontWeight":"bold","labelColor":"black","labelPadding":19,"labelOverlap":false,"labelFlush":false,"tickSize":-5,"tickColor":"black","tickWidth":1.5,"domainColor":"black","domainWidth":1.5,"grid":false,"titleFont":"Liberation Serif","titleFontSize":17,"titleFontWeight":"bold","titleColor":"black","titlePadding":8}},
"y2":{"datum":0.8}}},
{"data":{"name":"conc"},"mark":{"type":"line","strokeDash":[14,5],"strokeWidth":2.5,"strokeCap":"butt"},"encoding":{
"x":{"field":"year","type":"quantitative","scale":{"domain":[1965.7,2072.4],"range":[100,524],"nice":false,"zero":false},
"axis":{"title":null,"orient":"bottom","offset":-95,"values":[1965.7,1968.438,1971.176,1973.914,1976.652,1979.39,1982.128,1984.866,1987.604,1990.342,1993.08,1995.818,1998.556,2001.294,2004.032,2006.77,2009.508,2012.246,2014.984,2017.722,2020.46,2023.198,2025.936,2028.674,2031.412,2034.15,2036.888,2039.626,2042.364,2045.102,2047.84,2050.578,2053.316,2056.054,2058.792,2061.53,2064.268,2067.006,2069.744],"labelExpr":"round((datum.value-1965.7)/2.738) % 5 == 0 ? '' + floor(datum.value) : ''","labelFont":"Liberation Serif","labelFontSize":17,"labelFontWeight":"bold","labelColor":"black","labelPadding":20,"labelOverlap":false,"labelFlush":false,"tickSize":-5,"tickColor":"black","tickWidth":1.5,"domainColor":"#1ea5e6","domainWidth":2.5,"grid":false}},
"y":{"field":"c","type":"quantitative","scale":{"domain":[0,0.8],"range":[375,95],"nice":false,"zero":false},
"axis":{"title":"Concentration","orient":"left","offset":-100,"values":[0,0.04,0.08,0.12,0.16,0.2,0.24,0.28,0.32,0.36,0.4,0.44,0.48,0.52,0.56,0.6,0.64,0.68,0.72,0.76,0.8],"labelExpr":"round(datum.value*25) % 5 == 0 ? (datum.value == 0 ? '0' : format(datum.value, '.1f')) : ''","labelFont":"Liberation Serif","labelFontSize":17,"labelFontWeight":"bold","labelColor":"black","labelPadding":19,"labelOverlap":false,"labelFlush":false,"tickSize":-5,"tickColor":"black","tickWidth":1.5,"domainColor":"black","domainWidth":1.5,"grid":false,"titleFont":"Liberation Serif","titleFontSize":17,"titleFontWeight":"bold","titleColor":"black","titlePadding":8}},
"color":{"field":"series","type":"nominal","scale":{"domain":["Slow","Fast"],"range":["#f01414","#1ea5e6"]},"legend":null}}},
{"data":{"name":"leg"},"mark":{"type":"line","strokeDash":[14,5],"strokeWidth":2.5,"strokeCap":"butt"},"encoding":{
"x":{"field":"year","type":"quantitative","axis":{"title":null,"orient":"bottom","offset":-95,"values":[1965.7,1968.438,1971.176,1973.914,1976.652,1979.39,1982.128,1984.866,1987.604,1990.342,1993.08,1995.818,1998.556,2001.294,2004.032,2006.77,2009.508,2012.246,2014.984,2017.722,2020.46,2023.198,2025.936,2028.674,2031.412,2034.15,2036.888,2039.626,2042.364,2045.102,2047.84,2050.578,2053.316,2056.054,2058.792,2061.53,2064.268,2067.006,2069.744],"labelExpr":"round((datum.value-1965.7)/2.738) % 5 == 0 ? '' + floor(datum.value) : ''","labelFont":"Liberation Serif","labelFontSize":17,"labelFontWeight":"bold","labelColor":"black","labelPadding":20,"labelOverlap":false,"labelFlush":false,"tickSize":-5,"tickColor":"black","tickWidth":1.5,"domainColor":"#1ea5e6","domainWidth":2.5,"grid":false}},
"y":{"field":"c","type":"quantitative","axis":{"title":"Concentration","orient":"left","offset":-100,"values":[0,0.04,0.08,0.12,0.16,0.2,0.24,0.28,0.32,0.36,0.4,0.44,0.48,0.52,0.56,0.6,0.64,0.68,0.72,0.76,0.8],"labelExpr":"round(datum.value*25) % 5 == 0 ? (datum.value == 0 ? '0' : format(datum.value, '.1f')) : ''","labelFont":"Liberation Serif","labelFontSize":17,"labelFontWeight":"bold","labelColor":"black","labelPadding":19,"labelOverlap":false,"labelFlush":false,"tickSize":-5,"tickColor":"black","tickWidth":1.5,"domainColor":"black","domainWidth":1.5,"grid":false,"titleFont":"Liberation Serif","titleFontSize":17,"titleFontWeight":"bold","titleColor":"black","titlePadding":8}},
"color":{"field":"series","type":"nominal","legend":null}}},
{"data":{"name":"legtext"},"mark":{"type":"text","font":"Liberation Serif","fontSize":17,"fontWeight":"bold","align":"left","baseline":"alphabetic","lineBreak":"\n","lineHeight":21,"color":"black"},"encoding":{
"x":{"datum":2018.3,"axis":{"title":null,"orient":"bottom","offset":-95,"values":[1965.7,1968.438,1971.176,1973.914,1976.652,1979.39,1982.128,1984.866,1987.604,1990.342,1993.08,1995.818,1998.556,2001.294,2004.032,2006.77,2009.508,2012.246,2014.984,2017.722,2020.46,2023.198,2025.936,2028.674,2031.412,2034.15,2036.888,2039.626,2042.364,2045.102,2047.84,2050.578,2053.316,2056.054,2058.792,2061.53,2064.268,2067.006,2069.744],"labelExpr":"round((datum.value-1965.7)/2.738) % 5 == 0 ? '' + floor(datum.value) : ''","labelFont":"Liberation Serif","labelFontSize":17,"labelFontWeight":"bold","labelColor":"black","labelPadding":20,"labelOverlap":false,"labelFlush":false,"tickSize":-5,"tickColor":"black","tickWidth":1.5,"domainColor":"#1ea5e6","domainWidth":2.5,"grid":false}},
"y":{"field":"c","type":"quantitative","axis":{"title":"Concentration","orient":"left","offset":-100,"values":[0,0.04,0.08,0.12,0.16,0.2,0.24,0.28,0.32,0.36,0.4,0.44,0.48,0.52,0.56,0.6,0.64,0.68,0.72,0.76,0.8],"labelExpr":"round(datum.value*25) % 5 == 0 ? (datum.value == 0 ? '0' : format(datum.value, '.1f')) : ''","labelFont":"Liberation Serif","labelFontSize":17,"labelFontWeight":"bold","labelColor":"black","labelPadding":19,"labelOverlap":false,"labelFlush":false,"tickSize":-5,"tickColor":"black","tickWidth":1.5,"domainColor":"black","domainWidth":1.5,"grid":false,"titleFont":"Liberation Serif","titleFontSize":17,"titleFontWeight":"bold","titleColor":"black","titlePadding":8}},
"text":{"field":"t"}}},
{"data":{"values":[{}]},"mark":{"type":"text","text":"Breakthrough  of pulse sent on 1st August 1974","font":"Liberation Serif","fontSize":18,"fontWeight":"bold","align":"center","baseline":"middle","color":"black"},"encoding":{
"x":{"datum":2012.0,"axis":{"title":null,"orient":"bottom","offset":-95,"values":[1965.7,1968.438,1971.176,1973.914,1976.652,1979.39,1982.128,1984.866,1987.604,1990.342,1993.08,1995.818,1998.556,2001.294,2004.032,2006.77,2009.508,2012.246,2014.984,2017.722,2020.46,2023.198,2025.936,2028.674,2031.412,2034.15,2036.888,2039.626,2042.364,2045.102,2047.84,2050.578,2053.316,2056.054,2058.792,2061.53,2064.268,2067.006,2069.744],"labelExpr":"round((datum.value-1965.7)/2.738) % 5 == 0 ? '' + floor(datum.value) : ''","labelFont":"Liberation Serif","labelFontSize":17,"labelFontWeight":"bold","labelColor":"black","labelPadding":20,"labelOverlap":false,"labelFlush":false,"tickSize":-5,"tickColor":"black","tickWidth":1.5,"domainColor":"#1ea5e6","domainWidth":2.5,"grid":false}},
"y":{"datum":0.881,"axis":{"title":"Concentration","orient":"left","offset":-100,"values":[0,0.04,0.08,0.12,0.16,0.2,0.24,0.28,0.32,0.36,0.4,0.44,0.48,0.52,0.56,0.6,0.64,0.68,0.72,0.76,0.8],"labelExpr":"round(datum.value*25) % 5 == 0 ? (datum.value == 0 ? '0' : format(datum.value, '.1f')) : ''","labelFont":"Liberation Serif","labelFontSize":17,"labelFontWeight":"bold","labelColor":"black","labelPadding":19,"labelOverlap":false,"labelFlush":false,"tickSize":-5,"tickColor":"black","tickWidth":1.5,"domainColor":"black","domainWidth":1.5,"grid":false,"titleFont":"Liberation Serif","titleFontSize":17,"titleFontWeight":"bold","titleColor":"black","titlePadding":8}}}},
{"data":{"values":[{}]},"mark":{"type":"text","text":"(c)","font":"Liberation Serif","fontSize":19,"fontWeight":"bold","align":"right","baseline":"middle","color":"black"},"encoding":{
"x":{"datum":2082.9,"axis":{"title":null,"orient":"bottom","offset":-95,"values":[1965.7,1968.438,1971.176,1973.914,1976.652,1979.39,1982.128,1984.866,1987.604,1990.342,1993.08,1995.818,1998.556,2001.294,2004.032,2006.77,2009.508,2012.246,2014.984,2017.722,2020.46,2023.198,2025.936,2028.674,2031.412,2034.15,2036.888,2039.626,2042.364,2045.102,2047.84,2050.578,2053.316,2056.054,2058.792,2061.53,2064.268,2067.006,2069.744],"labelExpr":"round((datum.value-1965.7)/2.738) % 5 == 0 ? '' + floor(datum.value) : ''","labelFont":"Liberation Serif","labelFontSize":17,"labelFontWeight":"bold","labelColor":"black","labelPadding":20,"labelOverlap":false,"labelFlush":false,"tickSize":-5,"tickColor":"black","tickWidth":1.5,"domainColor":"#1ea5e6","domainWidth":2.5,"grid":false}},
"y":{"datum":1.02,"axis":{"title":"Concentration","orient":"left","offset":-100,"values":[0,0.04,0.08,0.12,0.16,0.2,0.24,0.28,0.32,0.36,0.4,0.44,0.48,0.52,0.56,0.6,0.64,0.68,0.72,0.76,0.8],"labelExpr":"round(datum.value*25) % 5 == 0 ? (datum.value == 0 ? '0' : format(datum.value, '.1f')) : ''","labelFont":"Liberation Serif","labelFontSize":17,"labelFontWeight":"bold","labelColor":"black","labelPadding":19,"labelOverlap":false,"labelFlush":false,"tickSize":-5,"tickColor":"black","tickWidth":1.5,"domainColor":"black","domainWidth":1.5,"grid":false,"titleFont":"Liberation Serif","titleFontSize":17,"titleFontWeight":"bold","titleColor":"black","titlePadding":8}}}}
]
}
]
}
